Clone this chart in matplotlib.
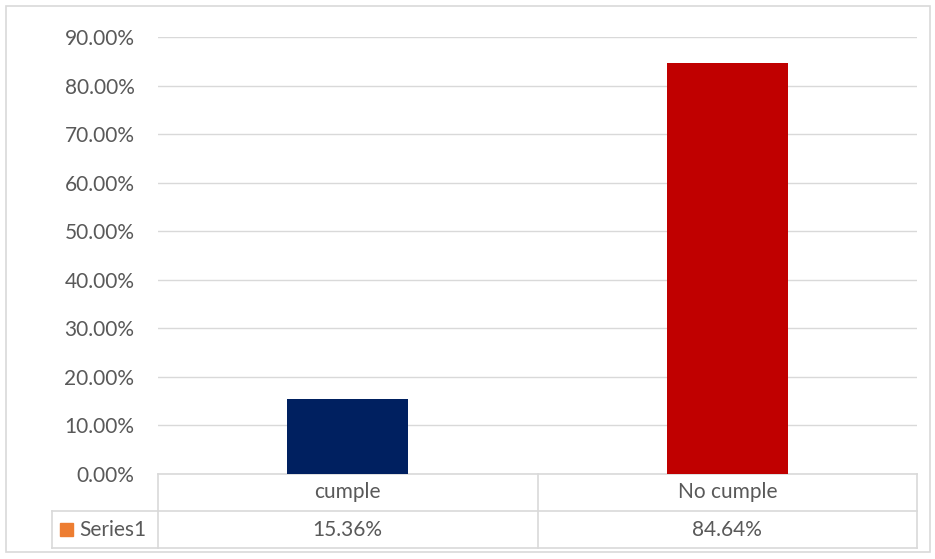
import matplotlib.pyplot as plt
from matplotlib.patches import Rectangle

# data
categories = ["cumple", "No cumple"]
values = [15.36, 84.64]
labels = ["15.36%", "84.64%"]
series_name = "Series1"
bar_colors = ["#002060", "#C00000"]

plt.rcParams['font.family'] = ['Lato', 'DejaVu Sans']
txt = "#595959"
grid = "#d9d9d9"
fs = 15

fig = plt.figure(figsize=(9.35, 5.59), dpi=100)
W, H = 935, 559
ax = fig.add_axes([158 / W, 1 - 474 / H, (917 - 158) / W, (474 - 37) / H])

x = list(range(len(categories)))
ax.bar(x, values, width=0.32, color=bar_colors, zorder=3)
ax.set_xlim(-0.5, len(categories) - 0.5)
ax.set_ylim(0, 90)
ax.set_yticks(range(0, 91, 10))
ax.set_yticklabels([f"{v:.2f}%" for v in range(0, 91, 10)], color=txt, fontsize=fs)
ax.tick_params(axis='y', length=0, pad=17)
ax.set_xticks([])
ax.yaxis.grid(True, color=grid, linewidth=1, zorder=0)
for s in ax.spines.values():
    s.set_visible(False)

# data table under the axes
row_h = 37 / 437
kw = dict(transform=ax.transAxes, clip_on=False, color=grid, linewidth=1.2)
ax.plot([0, 1], [0, 0], **kw)
ax.plot([0, 1], [-row_h, -row_h], **kw)
ax.plot([0, 1], [-2 * row_h, -2 * row_h], **kw)
lab_w = (158 - 52) / 759
ax.plot([-lab_w, 0], [-row_h, -row_h], **kw)
ax.plot([-lab_w, 0], [-2 * row_h, -2 * row_h], **kw)
ax.plot([-lab_w, -lab_w], [-row_h, -2 * row_h], **kw)
for i in range(len(categories) + 1):
    xi = i / len(categories)
    ax.plot([xi, xi], [0, -2 * row_h], **kw)
for i, (c, l) in enumerate(zip(categories, labels)):
    xc = (i + 0.5) / len(categories)
    ax.text(xc, -0.5 * row_h, c, transform=ax.transAxes, ha='center', va='center',
            color=txt, fontsize=fs)
    ax.text(xc, -1.5 * row_h, l, transform=ax.transAxes, ha='center', va='center',
            color=txt, fontsize=fs)
ax.add_patch(Rectangle((-lab_w + 8 / 759, -1.5 * row_h - 6.5 / 437), 13 / 759, 13 / 437,
                       transform=ax.transAxes, clip_on=False, color="#ED7D31"))
ax.text(-lab_w + 27 / 759, -1.5 * row_h, series_name, transform=ax.transAxes,
        ha='left', va='center', color=txt, fontsize=fs)

# outer chart border
fig.patches.append(Rectangle((6 / W, 1 - 552 / H), (930 - 6) / W, (552 - 6) / H,
                             transform=fig.transFigure, fill=False, edgecolor=grid,
                             linewidth=1.2))

fig.savefig("out.png", dpi=100)
